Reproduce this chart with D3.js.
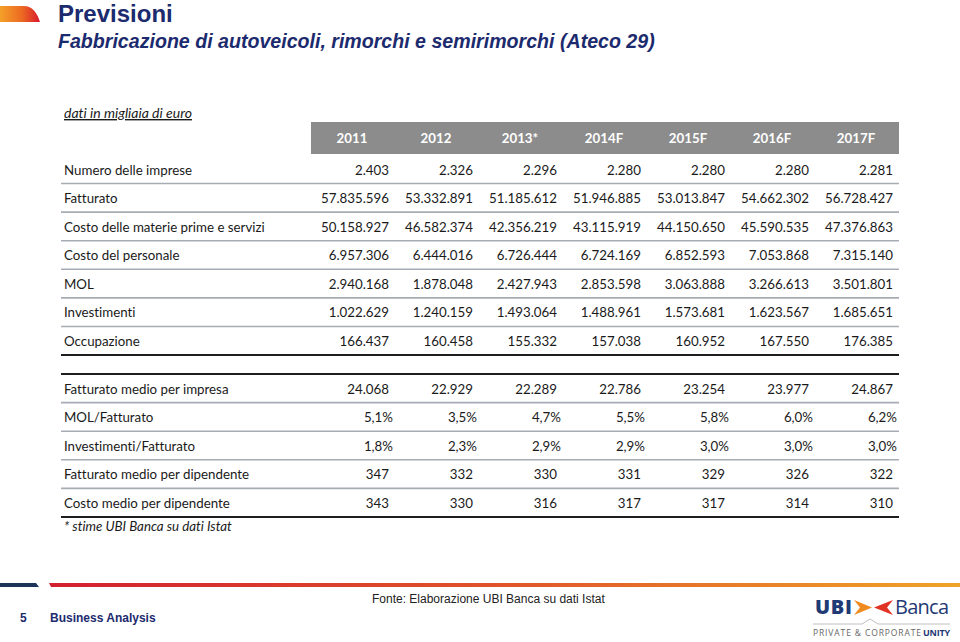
<!DOCTYPE html>
<html>
<head>
<meta charset="utf-8">
<script src="https://cdn.jsdelivr.net/npm/d3@7"></script>
<style>
  html, body { margin: 0; padding: 0; background: #fff; }
  svg { display: block; }
  svg text { font-variant-ligatures: none; }
</style>
</head>
<body>
<svg id="chart" width="960" height="642"></svg>
<script>
// ---------- DATA ----------
const years = ["2011", "2012", "2013*", "2014F", "2015F", "2016F", "2017F"];

const labelsMain = ["Numero delle imprese", "Fatturato", "Costo delle materie prime e servizi",
  "Costo del personale", "MOL", "Investimenti", "Occupazione"];
const numeroImprese = [2403, 2326, 2296, 2280, 2280, 2280, 2281];
const fatturato = [57835596, 53332891, 51185612, 51946885, 53013847, 54662302, 56728427];
const costoMaterie = [50158927, 46582374, 42356219, 43115919, 44150650, 45590535, 47376863];
const costoPersonale = [6957306, 6444016, 6726444, 6724169, 6852593, 7053868, 7315140];
const mol = [2940168, 1878048, 2427943, 2853598, 3063888, 3266613, 3501801];
const investimenti = [1022629, 1240159, 1493064, 1488961, 1573681, 1623567, 1685651];
const occupazione = [166437, 160458, 155332, 157038, 160952, 167550, 176385];

const labelsRatio = ["Fatturato medio per impresa", "MOL/Fatturato", "Investimenti/Fatturato",
  "Fatturato medio per dipendente", "Costo medio per dipendente"];
const fatturatoMedioImpresa = [24068, 22929, 22289, 22786, 23254, 23977, 24867];
const molFatturato = [5.1, 3.5, 4.7, 5.5, 5.8, 6.0, 6.2];
const invFatturato = [1.8, 2.3, 2.9, 2.9, 3.0, 3.0, 3.0];
const fattMedioDip = [347, 332, 330, 331, 329, 326, 322];
const costoMedioDip = [343, 330, 316, 317, 317, 314, 310];

const mainRows = [numeroImprese, fatturato, costoMaterie, costoPersonale, mol, investimenti, occupazione];
const ratioRows = [fatturatoMedioImpresa, molFatturato, invFatturato, fattMedioDip, costoMedioDip];
const ratioIsPct = [false, true, true, false, false];

// ---------- SETUP ----------
const it = d3.formatLocale({decimal: ",", thousands: ".", grouping: [3], currency: ["€", ""]});
const fmtInt = it.format(",d");
const fmtPct = v => it.format(".1f")(v) + "%";

const svg = d3.select("#chart");
const navy = "#1c2a6e";
const tableFont = "Lato, 'Open Sans', sans-serif";
const tableSize = 13.3;
const tableColor = "#1a1a1a";

const defs = svg.append("defs");
const g1 = defs.append("linearGradient").attr("id", "swoosh").attr("x1", "0").attr("x2", "1").attr("y1", "0").attr("y2", "0");
g1.append("stop").attr("offset", "0").attr("stop-color", "#f4a028");
g1.append("stop").attr("offset", "0.55").attr("stop-color", "#ec6a22");
g1.append("stop").attr("offset", "1").attr("stop-color", "#d8182e");
const g2 = defs.append("linearGradient").attr("id", "bar").attr("x1", "0").attr("x2", "1").attr("y1", "0").attr("y2", "0");
g2.append("stop").attr("offset", "0").attr("stop-color", "#d21f30");
g2.append("stop").attr("offset", "0.5").attr("stop-color", "#e0552a");
g2.append("stop").attr("offset", "1").attr("stop-color", "#f0a328");

// ---------- HEADER ----------
svg.append("path").attr("d", "M0,6 L24,6 Q35,6 40,22 L0,22 Z").attr("fill", "url(#swoosh)");
svg.append("text").attr("x", 58).attr("y", 22)
  .attr("font-family", "'Liberation Sans', Arial, sans-serif").attr("font-weight", "bold")
  .attr("font-size", 24).attr("fill", navy).text("Previsioni");
svg.append("text").attr("x", 58).attr("y", 48)
  .attr("font-family", "'Liberation Sans', Arial, sans-serif").attr("font-weight", "bold")
  .attr("font-style", "italic").attr("font-size", 19.6).attr("fill", navy)
  .text("Fabbricazione di autoveicoli, rimorchi e semirimorchi (Ateco 29)");

svg.append("text").attr("x", 64).attr("y", 118)
  .attr("font-family", tableFont).attr("font-style", "italic").attr("font-size", 14)
  .attr("text-decoration", "underline").attr("fill", tableColor)
  .text("dati in migliaia di euro");

// ---------- SCALES ----------
const x = d3.scaleBand().domain(years).range([311, 899]).paddingInner(0).paddingOuter(0);
const yMain = d3.scaleBand().domain(labelsMain).range([155, 355]);
const yRatio = d3.scaleBand().domain(labelsRatio).range([374, 517]);
const lineLeft = 61, lineRight = 899;

// header band
svg.append("rect").attr("x", x.range()[0]).attr("y", 122)
  .attr("width", x.range()[1] - x.range()[0]).attr("height", 32).attr("fill", "#8c8c8c");
svg.append("g").selectAll("text").data(years).join("text")
  .attr("x", d => x(d) + x.bandwidth() / 2 - 1).attr("y", 143)
  .attr("text-anchor", "middle").attr("font-family", tableFont).attr("font-weight", "bold")
  .attr("font-size", 13.3).attr("fill", "#fff").text(d => d);

function drawBlock(labels, rows, yScale, fmtFor, offsetFor) {
  const g = svg.append("g");
  labels.forEach((lab, i) => {
    const y0 = yScale(lab), y1 = y0 + yScale.bandwidth();
    g.append("text").attr("x", 64).attr("y", y1 - 9)
      .attr("font-family", tableFont).attr("font-size", tableSize).attr("fill", tableColor).text(lab);
    g.selectAll(null).data(rows[i]).join("text")
      .attr("x", (d, j) => x(years[j]) + x.bandwidth() - 6 + offsetFor(i))
      .attr("y", y1 - 9).attr("text-anchor", "end")
      .attr("font-family", tableFont).attr("font-size", tableSize).attr("fill", tableColor)
      .text(d => fmtFor(i)(d));
    const last = i === labels.length - 1;
    g.append("line").attr("x1", lineLeft).attr("x2", lineRight).attr("y1", y1).attr("y2", y1)
      .attr("stroke", last ? "#1e1e1e" : "#a6acb3").attr("stroke-width", last ? 2 : 1.6);
  });
}
drawBlock(labelsMain, mainRows, yMain, () => fmtInt, () => 0);
// top rule of second block
svg.append("line").attr("x1", lineLeft).attr("x2", lineRight).attr("y1", yRatio.range()[0]).attr("y2", yRatio.range()[0])
  .attr("stroke", "#1e1e1e").attr("stroke-width", 2);
drawBlock(labelsRatio, ratioRows, yRatio, i => ratioIsPct[i] ? fmtPct : fmtInt, i => ratioIsPct[i] ? 4 : 0);

svg.append("text").attr("x", 64).attr("y", 531)
  .attr("font-family", tableFont).attr("font-style", "italic").attr("font-size", 13.3)
  .attr("fill", tableColor).text("* stime UBI Banca su dati Istat");

// ---------- FOOTER ----------
svg.append("path").attr("d", "M0,583 L36,583 L39,587 L0,587 Z").attr("fill", "#1c3458");
svg.append("path").attr("d", "M49,583 L960,583 L960,587 L51,587 Z").attr("fill", "url(#bar)");

svg.append("text").attr("x", 372).attr("y", 603)
  .attr("font-family", "'Liberation Sans Narrow', 'Liberation Sans', Arial, sans-serif")
  .attr("font-size", 12).attr("fill", "#222").text("Fonte: Elaborazione UBI Banca su dati Istat");
svg.append("text").attr("x", 20).attr("y", 622)
  .attr("font-family", "'Liberation Sans', Arial, sans-serif").attr("font-weight", "bold")
  .attr("font-size", 12).attr("fill", navy).text("5");
svg.append("text").attr("x", 50).attr("y", 622)
  .attr("font-family", "'Liberation Sans', Arial, sans-serif").attr("font-weight", "bold")
  .attr("font-size", 12).attr("fill", navy).text("Business Analysis");

// logo
const logo = svg.append("g");
logo.append("text").attr("x", 815).attr("y", 614)
  .attr("font-family", "'Open Sans', 'Liberation Sans', sans-serif").attr("font-weight", "800")
  .attr("font-size", 20).attr("fill", "#1f3a74").attr("textLength", 37).text("UBI");
logo.append("path").attr("d", "M854,600 L872,607.5 L854,615 L860,607.5 Z").attr("fill", "#ef8a1f");
logo.append("path").attr("d", "M893,600 L874,607.5 L893,615 L887,607.5 Z").attr("fill", "#e03324");
logo.append("text").attr("x", 895).attr("y", 614)
  .attr("font-family", "'Open Sans', 'Liberation Sans', sans-serif")
  .attr("font-size", 20).attr("fill", "#1f3a74").attr("textLength", 54).text("Banca");
logo.append("path").attr("d", "M813,624 L862,624 L870,619 L878,624 L950,624")
  .attr("fill", "none").attr("stroke", "#b0b0b0").attr("stroke-width", 0.8);
logo.append("text").attr("x", 813).attr("y", 636)
  .attr("font-family", "'Open Sans', sans-serif").attr("font-size", 8.5).attr("fill", "#666")
  .attr("textLength", 108).text("PRIVATE & CORPORATE");
logo.append("text").attr("x", 923).attr("y", 636)
  .attr("font-family", "'Open Sans', sans-serif").attr("font-weight", "bold").attr("font-size", 9)
  .attr("fill", "#1f3a74").attr("textLength", 27).text("UNITY");
</script>
</body>
</html>
